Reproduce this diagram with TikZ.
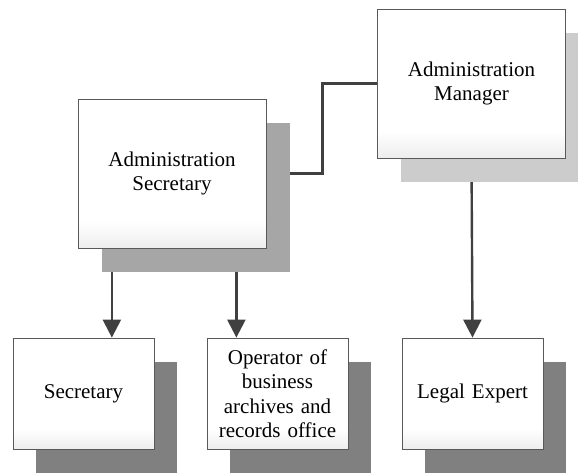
\documentclass[tikz,border=0pt]{standalone}
\usepackage{fontspec}
\setmainfont{Liberation Serif}
\usetikzlibrary{arrows.meta,shadows,calc}
\pgfdeclarelayer{back}
\pgfsetlayers{back,main}
\pgfdeclareverticalshading{unitshade}{100bp}{color(0bp)=(black!7); color(25bp)=(black!7);
  color(34bp)=(white); color(100bp)=(white)}

\tikzset{
  unit/.style={draw=black!65,line width=0.8pt,shading=unitshade,align=center,inner sep=2pt,
    font=\fontsize{21}{24.5}\selectfont},
  bigunit/.style={unit,minimum width=188pt,minimum height=149pt,text width=180pt},
  smallunit/.style={unit,minimum width=141pt,minimum height=111pt,text width=136pt,
    general shadow={fill=black!50,shadow xshift=23pt,shadow yshift=-24pt}},
  link/.style={draw=black!75,line width=2.4pt},
  arrow/.style={link,-{Triangle[width=18pt,length=18pt]}}
}

\begin{document}
\begin{tikzpicture}[x=1pt,y=-1pt]
  \useasboundingbox (0,0) rectangle (578,475);
  \node[bigunit,general shadow={fill=black!35,shadow xshift=24pt,shadow yshift=-24pt}]
    (sec) at (172,173.5) {Administration\\Secretary};
  \node[bigunit,general shadow={fill=black!20,shadow xshift=23pt,shadow yshift=-24pt}]
    (mgr) at (471.5,83.5) {Administration\\Manager};
  \foreach \n/\x/\t in {sc/83.5/Secretary,
    op/277.5/{Operator of\\business\\archives and\\records office},
    le/472.5/Legal Expert}
  {
    \node[smallunit] (\n) at (\x,393.5) {\t};
  }
  % connectors sit under the shadows
  \coordinate (a1) at ($(sc.north west)!0.7!(sc.north east)$);
  \coordinate (a2) at ($(op.north west)!0.21!(op.north east)$);
  \begin{pgfonlayer}{back}
    \draw[link] (sec.east) -- ++(56,0) |- (mgr.west);
    \draw[arrow] (a1 |- sec.south) -- (a1);
    \draw[arrow] (a2 |- sec.south) -- (a2);
    \draw[arrow] (mgr.south) -- (le.north);
  \end{pgfonlayer}
\end{tikzpicture}
\end{document}
